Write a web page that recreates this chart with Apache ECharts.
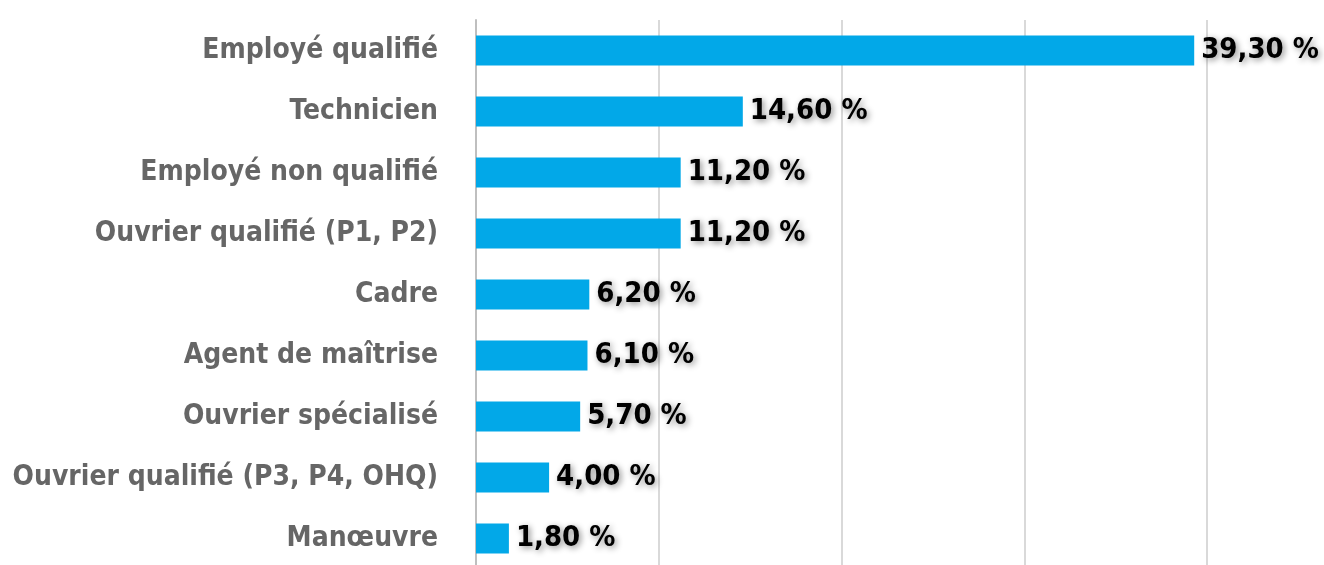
<!DOCTYPE html>
<html>
<head>
<meta charset="utf-8">
<script src="https://cdn.jsdelivr.net/npm/echarts@6/dist/echarts.min.js"></script>
<style>
  html, body { margin: 0; padding: 0; background: #fff; }
  #main { width: 1324px; height: 565px; }
</style>
</head>
<body>
<div id="main"></div>
<script>
// données (du haut vers le bas)
var categories = [
  'Employé qualifié',
  'Technicien',
  'Employé non qualifié',
  'Ouvrier qualifié (P1, P2)',
  'Cadre',
  'Agent de maîtrise',
  'Ouvrier spécialisé',
  'Ouvrier qualifié (P3, P4, OHQ)',
  'Manœuvre'
];
var values = [39.3, 14.6, 11.2, 11.2, 6.2, 6.1, 5.7, 4.0, 1.8];

var font = '"Liberation Sans Narrow", "DejaVu Sans Condensed", "Roboto", sans-serif';

var chart = echarts.init(document.getElementById('main'));

var option = {
  animation: false,
  backgroundColor: '#fff',
  grid: {
    left: 476,
    right: 117,
    top: 20,
    bottom: -4,
    containLabel: false,
    outerBoundsMode: 'none'
  },
  xAxis: {
    type: 'value',
    min: 0,
    max: 40,
    interval: 10,
    axisLabel: { show: false },
    axisLine: { show: false },
    axisTick: { show: false },
    splitLine: { lineStyle: { color: '#d9d9d9', width: 2 } }
  },
  yAxis: {
    type: 'category',
    inverse: true,
    data: categories,
    axisTick: { show: false },
    axisLine: { show: true, lineStyle: { color: '#bfbfbf', width: 2 } },
    axisLabel: {
      margin: 38,
      color: '#666666',
      fontFamily: font,
      fontWeight: 'bold',
      fontSize: 28
    }
  },
  series: [{
    type: 'bar',
    data: values,
    barCategoryGap: '51%',
    itemStyle: { color: '#02a8e8' },
    label: {
      show: true,
      position: 'right',
      distance: 7,
      color: '#000',
      fontFamily: font,
      fontWeight: 'bold',
      fontSize: 29,
      textShadowColor: 'rgba(0,0,0,0.45)',
      textShadowBlur: 6,
      textShadowOffsetX: 2,
      textShadowOffsetY: 2,
      formatter: function (p) {
        return p.value.toFixed(2).replace('.', ',') + ' %';
      }
    }
  }]
};

chart.setOption(option);
</script>
</body>
</html>
